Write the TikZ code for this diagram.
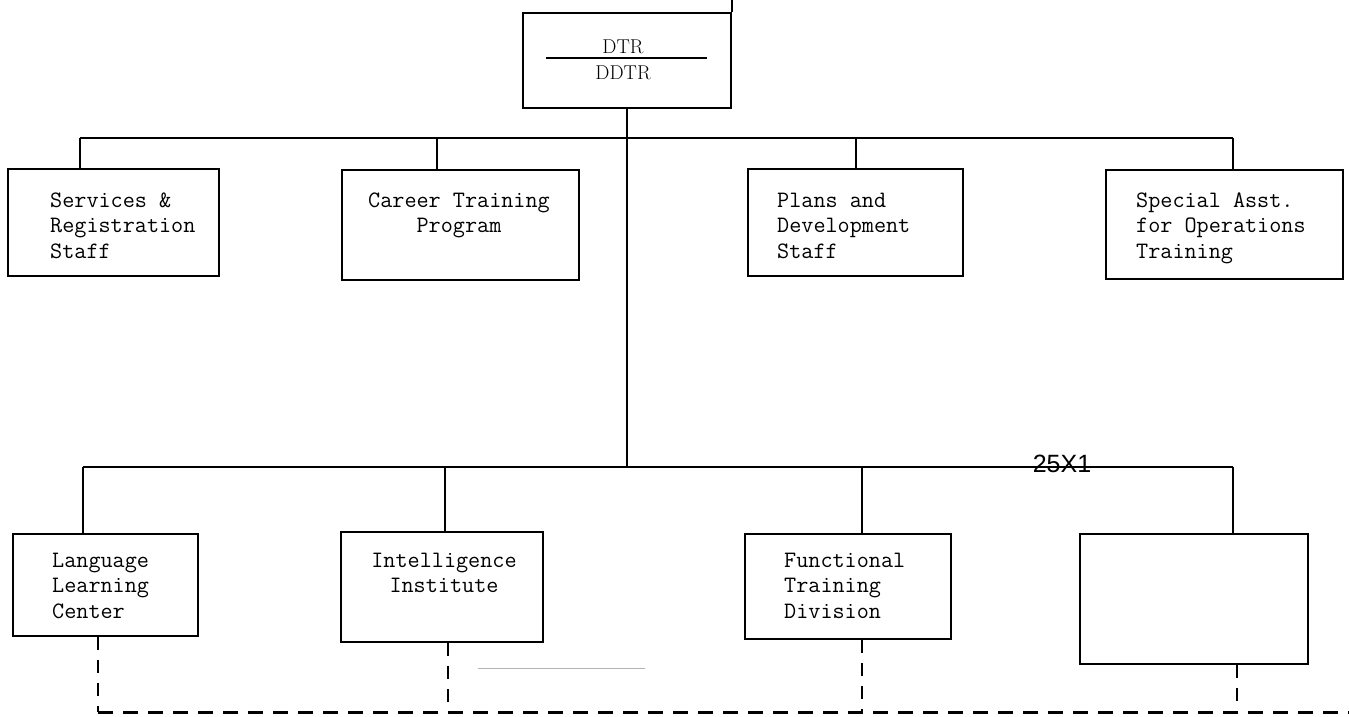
\documentclass[tikz,border=0pt]{standalone}
\usepackage{fontspec}
\newfontfamily\labelfont{Liberation Sans}
\begin{document}
\begin{tikzpicture}[x=1pt,y=-1pt,
  box/.style={draw, line width=2pt, inner sep=0pt, anchor=north west},
  conn/.style={line width=1.8pt},
  dashv/.style={line width=2.4pt, dash pattern=on 13pt off 10pt},
  dashh/.style={line width=3pt, dash pattern=on 15pt off 10pt},
  tw/.style={font=\ttfamily\fontsize{23.5}{25.5}\selectfont, inner sep=0pt},
  ttl/.style={font=\fontsize{20}{20}\selectfont, inner sep=0pt, anchor=base}]
\useasboundingbox (0,0) rectangle (1349,717);
% boxes
\node[box, minimum width=208pt, minimum height=95pt] (dtr) at (522,12) {};
\node[box, minimum width=211pt, minimum height=107pt] (s1) at (7,168) {};
\node[box, minimum width=237pt, minimum height=110pt] (s2) at (341,169) {};
\node[box, minimum width=215pt, minimum height=107pt] (s3) at (747,168) {};
\node[box, minimum width=237pt, minimum height=109pt] (s4) at (1105,169) {};
\node[box, minimum width=185pt, minimum height=102pt] (l1) at (12,533) {};
\node[box, minimum width=202pt, minimum height=110pt] (l2) at (340,531) {};
\node[box, minimum width=206pt, minimum height=105pt] (l3) at (744,533) {};
\node[box, minimum width=228pt, minimum height=130pt] (l4) at (1079,533) {};
% texts
\node[ttl] (dtrname) at (623,53) {DTR};
\node[ttl] (ddtrname) at (623,79) {DDTR};
\coordinate (ruleA) at (546,58);
\coordinate (ruleB) at (707,58);
\draw[line width=1.6pt] (ruleA) -- (ruleB);
\node[tw, anchor=base west, align=left] (t1) at (50,258) {Services \&\\Registration\\Staff};
\node[tw, anchor=base, align=center] (t2) at (459,232.5) {Career Training\\Program};
\node[tw, anchor=base west, align=left] (t3) at (777,258) {Plans and\\Development\\Staff};
\node[tw, anchor=base west, align=left] (t4) at (1136,258) {Special Asst.\\for Operations\\Training};
\node[tw, anchor=base west, align=left] (u1) at (52,618) {Language\\Learning\\Center};
\node[tw, anchor=base, align=center] (u2) at (444,592.5) {Intelligence\\Institute};
\node[tw, anchor=base west, align=left] (u3) at (784,618) {Functional\\Training\\Division};
% top connectors
\coordinate (topend) at (730,0);
\draw[conn] (dtr.north east) -- (dtr.north east |- topend);
\coordinate (b1) at (80,138);
\coordinate (b2) at (437,138);
\coordinate (b3) at (856,138);
\coordinate (b4) at (1233,138);
\coordinate (c1) at (83,467);
\coordinate (c2) at (445,467);
\coordinate (c3) at (862,467);
\coordinate (c4) at (1233,467);
\draw[conn] (b1) -- (b4);
\draw[conn] (b1) -- (b1 |- s1.north);
\draw[conn] (b2) -- (b2 |- s2.north);
\draw[conn] (b3) -- (b3 |- s3.north);
\draw[conn] (b4) -- (b4 |- s4.north);
\draw[conn] (dtr.south) -- (dtr.south |- c1);
\draw[conn] (c1) -- (c4);
\draw[conn] (c1) -- (c1 |- l1.north);
\draw[conn] (c2) -- (c2 |- l2.north);
\draw[conn] (c3) -- (c3 |- l3.north);
\draw[conn] (c4) -- (c4 |- l4.north);
\node[font=\labelfont\fontsize{25}{25}\selectfont, inner sep=0pt, anchor=base] (mark) at (1062,472) {25X1};
% dashed lines
\coordinate (d0) at (98,712);
\coordinate (d1) at (448,712);
\coordinate (d2) at (862,712);
\coordinate (d3) at (1237,712);
\coordinate (dend) at (1349,712);
\draw[dashh] (d0) -- (dend);
\draw[dashv] (l1.south -| d0) -- (d0);
\draw[dashv] (l2.south -| d1) -- (d1);
\draw[dashv] (l3.south -| d2) -- (d2);
\draw[dashv] (l4.south -| d3) -- (d3);
% faint stray line
\coordinate (fa) at (478,668);
\coordinate (fb) at (645,668);
\draw[gray!60, line width=0.8pt] (fa) -- (fb);
\end{tikzpicture}
\end{document}
